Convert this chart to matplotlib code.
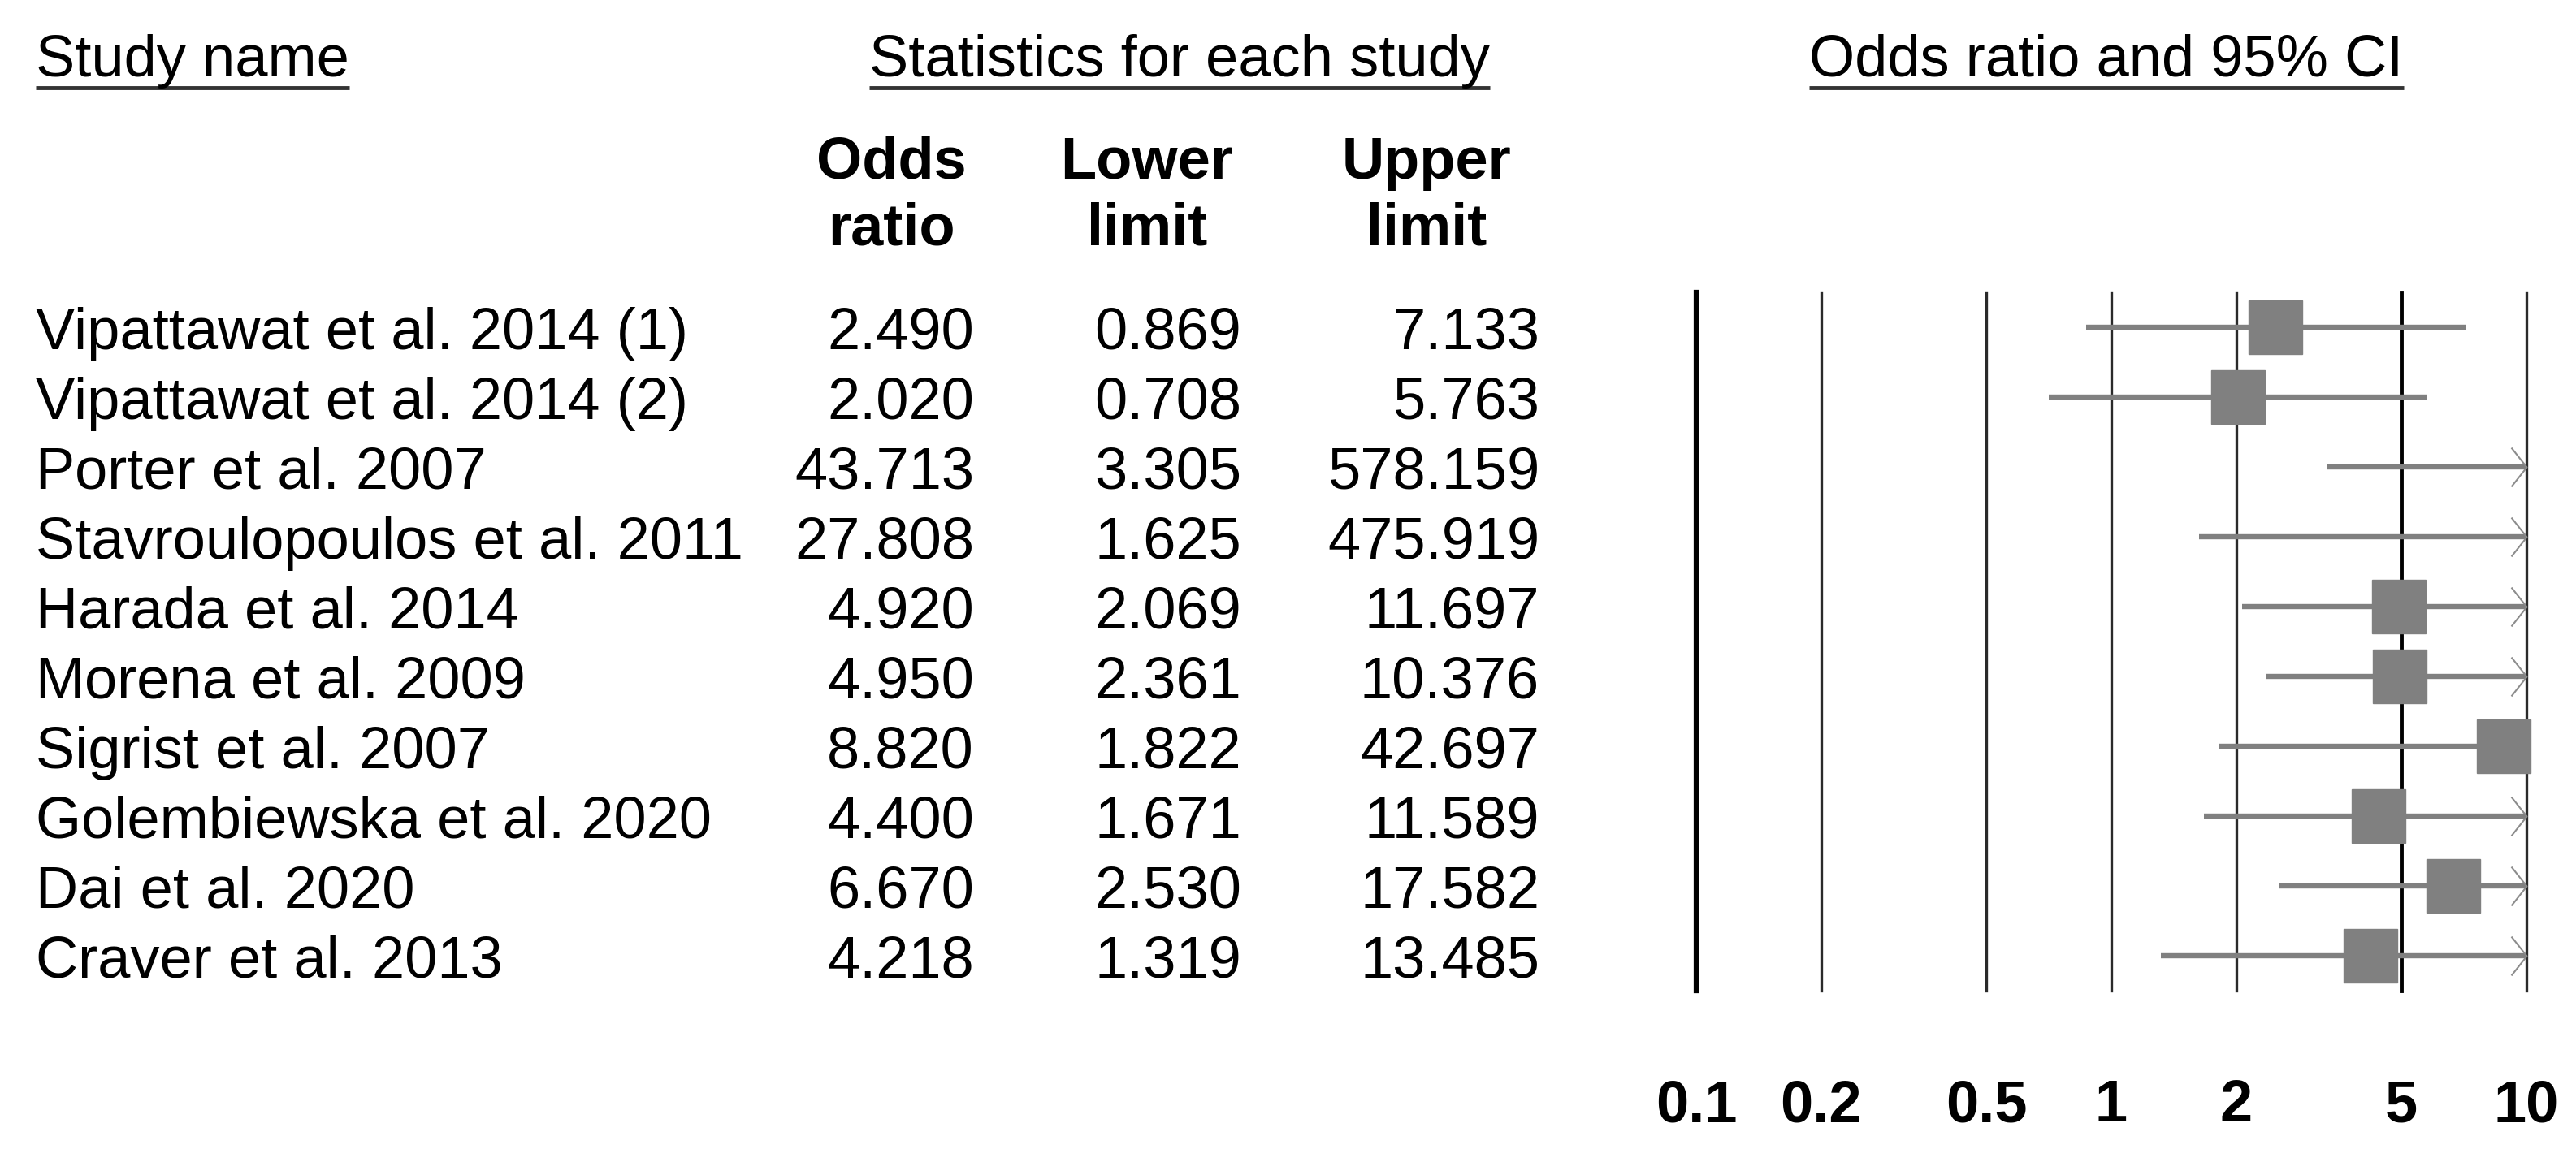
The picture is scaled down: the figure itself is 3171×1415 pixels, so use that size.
import numpy as np
import matplotlib
matplotlib.use('Agg')
import matplotlib.pyplot as plt
from matplotlib.path import Path
from matplotlib import transforms
from matplotlib.lines import Line2D
from matplotlib.ticker import NullLocator

# ---------------- data ----------------
studies = [
    "Vipattawat et al. 2014 (1)",
    "Vipattawat et al. 2014 (2)",
    "Porter et al. 2007",
    "Stavroulopoulos et al. 2011",
    "Harada et al. 2014",
    "Morena et al. 2009",
    "Sigrist et al. 2007",
    "Golembiewska et al. 2020",
    "Dai et al. 2020",
    "Craver et al. 2013",
]
odds_ratio = [2.490, 2.020, 43.713, 27.808, 4.920, 4.950, 8.820, 4.400, 6.670, 4.218]
lower_limit = [0.869, 0.708, 3.305, 1.625, 2.069, 2.361, 1.822, 1.671, 2.530, 1.319]
upper_limit = [7.133, 5.763, 578.159, 475.919, 11.697, 10.376, 42.697, 11.589, 17.582, 13.485]
ticks = [0.1, 0.2, 0.5, 1, 2, 5, 10]
tick_labels = ["0.1", "0.2", "0.5", "1", "2", "5", "10"]

# ---------------- layout ----------------
W, H, DPI = 3171, 1415, 100
plt.rcParams['font.family'] = ['Liberation Sans', 'DejaVu Sans']
fig = plt.figure(figsize=(W / DPI, H / DPI), dpi=DPI)
fig.patch.set_facecolor('white')


def fx(px):
    return px / W


def fy(py):
    return 1 - py / H


ax_left, ax_right, ax_top, ax_bottom = 2088, 3110, 360, 1220
ax = fig.add_axes([fx(ax_left), fy(ax_bottom), (ax_right - ax_left) / W, (ax_bottom - ax_top) / H])
ax.set_xscale('log')
ax.set_xlim(ticks[0], ticks[-1])
n = len(studies)
rows = np.arange(n)
ax.set_ylim(n - 0.5, -0.5)
for s in ax.spines.values():
    s.set_visible(False)
ax.set_yticks([])
ax.set_xticks(ticks)
ax.set_xticklabels(tick_labels, fontsize=52, fontweight='bold')
ax.xaxis.set_minor_locator(NullLocator())
ax.tick_params(axis='x', length=0, pad=78)
ax.patch.set_alpha(0)

# vertical reference lines
thick = {0.1: (4.5, '#000000'), 5: (3.5, '#000000')}
for t in ticks:
    lw, col = thick.get(t, (2.4, '#2a2a2a'))
    ax.axvline(t, color=col, lw=lw, zorder=1, clip_on=False)

or_arr = np.array(odds_ratio)
lo_arr = np.array(lower_limit)
up_arr = np.array(upper_limit)
xmax = ax.get_xlim()[1]

# CI lines
ax.hlines(rows, lo_arr, np.minimum(up_arr, xmax), color='#808080', lw=4.6, zorder=2)

# squares (only those within range)
inside = or_arr <= xmax
ax.plot(or_arr[inside], rows[inside], 's', ms=48, color='#808080', ls='none',
        zorder=3, clip_on=False)

# open chevron arrows for truncated CIs
chev = Path([(-19, 24), (0, 0), (-19, -24)], [Path.MOVETO, Path.LINETO, Path.LINETO])
trunc = up_arr > xmax
ax.plot(np.full(trunc.sum(), xmax), rows[trunc], marker=chev, ms=34.5, mfc='none',
        mec='#8c8c8c', mew=1.5, ls='none', zorder=2, clip_on=False)

# ---------------- text columns ----------------
base = transforms.blended_transform_factory(fig.transFigure, ax.transData)
trans = base + transforms.ScaledTranslation(0, -27 / DPI, fig.dpi_scale_trans)
FS = 52
for i in rows:
    fig.text(fx(44), i, studies[i], transform=trans, fontsize=FS, ha='left', va='baseline')
    fig.text(fx(1199), i, f"{odds_ratio[i]:.3f}", transform=trans, fontsize=FS, ha='right', va='baseline')
    fig.text(fx(1528), i, f"{lower_limit[i]:.3f}", transform=trans, fontsize=FS, ha='right', va='baseline')
    fig.text(fx(1895), i, f"{upper_limit[i]:.3f}", transform=trans, fontsize=FS, ha='right', va='baseline')

# column headers
col_heads = [("Odds", "ratio", 1097), ("Lower", "limit", 1412), ("Upper", "limit", 1756)]
for top, bot, x in col_heads:
    fig.text(fx(x), fy(220), top, fontsize=FS, fontweight='bold', ha='center', va='baseline')
    fig.text(fx(x), fy(302), bot, fontsize=FS, fontweight='bold', ha='center', va='baseline')

# section headers with underline
sec = [
    fig.text(fx(44), fy(94), "Study name", fontsize=FS, ha='left', va='baseline'),
    fig.text(fx(1452), fy(94), "Statistics for each study", fontsize=FS, ha='center', va='baseline'),
    fig.text(fx(2593), fy(94), "Odds ratio and 95% CI", fontsize=FS, ha='center', va='baseline'),
]
fig.canvas.draw()
renderer = fig.canvas.get_renderer()
for t in sec:
    bb = t.get_window_extent(renderer)
    fig.add_artist(Line2D([bb.x0 / W, bb.x1 / W], [fy(108), fy(108)], transform=fig.transFigure,
                          color='#333333', lw=3.5, solid_capstyle='butt'))

fig.savefig('out.png', dpi=DPI, facecolor='white')
